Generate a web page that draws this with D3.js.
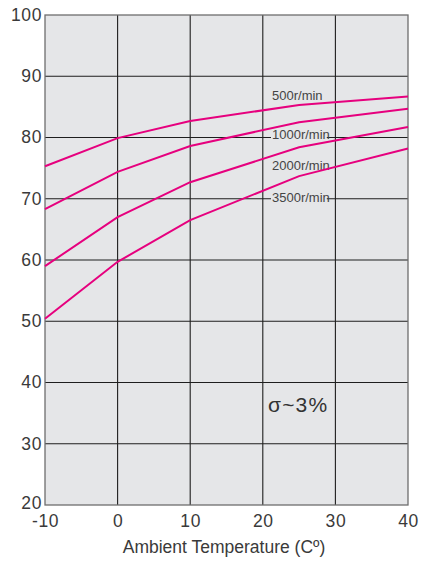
<!DOCTYPE html>
<html><head><meta charset="utf-8">
<script src="https://cdn.jsdelivr.net/npm/d3@7"></script>
<style>body{margin:0;background:#fff;} text{font-family:"Liberation Sans",Arial,sans-serif;}</style>
</head><body><svg id="c" width="431" height="561"></svg>
<script>
const temps = [-10, 0, 10, 25, 40];
const s500 = [75.3, 79.9, 82.7, 85.3, 86.7];
const s1000 = [68.3, 74.4, 78.6, 82.5, 84.7];
const s2000 = [59.0, 67.0, 72.7, 78.4, 81.7];
const s3500 = [50.4, 59.7, 66.5, 73.7, 78.2];
const seriesNames = ["500r/min", "1000r/min", "2000r/min", "3500r/min"];
const seriesLabelY = [86.9, 80.5, 75.5, 70.2];
const xTicks = [-10, 0, 10, 20, 30, 40];
const yTicks = [20, 30, 40, 50, 60, 70, 80, 90, 100];
const note = "σ~3%";
const xTitle = "Ambient Temperature (Cº)";

const svg = d3.select("#c");
const L = 45, R = 408, T = 15, B = 505;
const x = d3.scaleLinear().domain([-10, 40]).range([L, R]);
const y = d3.scaleLinear().domain([20, 100]).range([B, T]);

svg.append("rect").attr("x", L).attr("y", T).attr("width", R - L).attr("height", B - T).attr("fill", "#e5e6e8");

// grid
svg.append("g").selectAll("line").data(xTicks.slice(1, -1)).join("line")
  .attr("x1", d => x(d)).attr("x2", d => x(d)).attr("y1", T).attr("y2", B)
  .attr("stroke", "#1e1e1e").attr("stroke-width", 1.1);
svg.append("g").selectAll("line").data(yTicks.slice(1, -1)).join("line")
  .attr("y1", d => y(d)).attr("y2", d => y(d)).attr("x1", L).attr("x2", R)
  .attr("stroke", "#1e1e1e").attr("stroke-width", 1.1);

// axes via d3
const gx = svg.append("g").attr("transform", `translate(0,${B})`)
  .call(d3.axisBottom(x).tickValues(xTicks).tickFormat(d => String(d)).tickSize(0).tickPadding(10));
const gy = svg.append("g").attr("transform", `translate(${L},0)`)
  .call(d3.axisLeft(y).tickValues(yTicks).tickFormat(d => String(d)).tickSize(0).tickPadding(3));
[gx, gy].forEach(g => {
  g.select(".domain").remove();
  g.selectAll("text").attr("font-size", 17.5).attr("letter-spacing", 0.6).attr("fill", "#3a3a3a")
    .attr("font-family", "'Liberation Sans',Arial,sans-serif");
});
gy.selectAll("text").attr("dy", "0.3em");
gy.selectAll(".tick").filter(d => d === 20).select("text").attr("dy", "0.2em");

// border
svg.append("rect").attr("x", L).attr("y", T).attr("width", R - L).attr("height", B - T)
  .attr("fill", "none").attr("stroke", "#6e6e6e").attr("stroke-width", 1.3);

// labels with background
const lab = svg.append("g");
seriesNames.forEach((n, i) => {
  const t = lab.append("text").attr("x", 272).attr("y", y(seriesLabelY[i])).attr("dy", "0.35em")
    .attr("font-size", 13).attr("fill", "#444").text(n);
  if (i === 1 || i === 3) {
    const bb = t.node().getBBox();
    lab.insert("rect", "text").attr("x", bb.x - 1).attr("y", bb.y + 2).attr("width", bb.width - 2).attr("height", bb.height - 4)
      .attr("fill", "#e5e6e8");
  }
});

// lines
const all = [s500, s1000, s2000, s3500];
const line = d3.line().x((d, i) => x(temps[i])).y(d => y(d));
svg.append("g").selectAll("path").data(all).join("path")
  .attr("d", line).attr("fill", "none").attr("stroke", "#e6007e").attr("stroke-width", 2);

svg.append("text").attr("x", 268).attr("y", 412).attr("font-size", 21).attr("letter-spacing", 1.2).attr("fill", "#333").text(note);

svg.append("text").attr("x", 224).attr("y", 553).attr("text-anchor", "middle")
  .attr("font-size", 17.5).attr("fill", "#3a3a3a").text(xTitle);
</script></body></html>
